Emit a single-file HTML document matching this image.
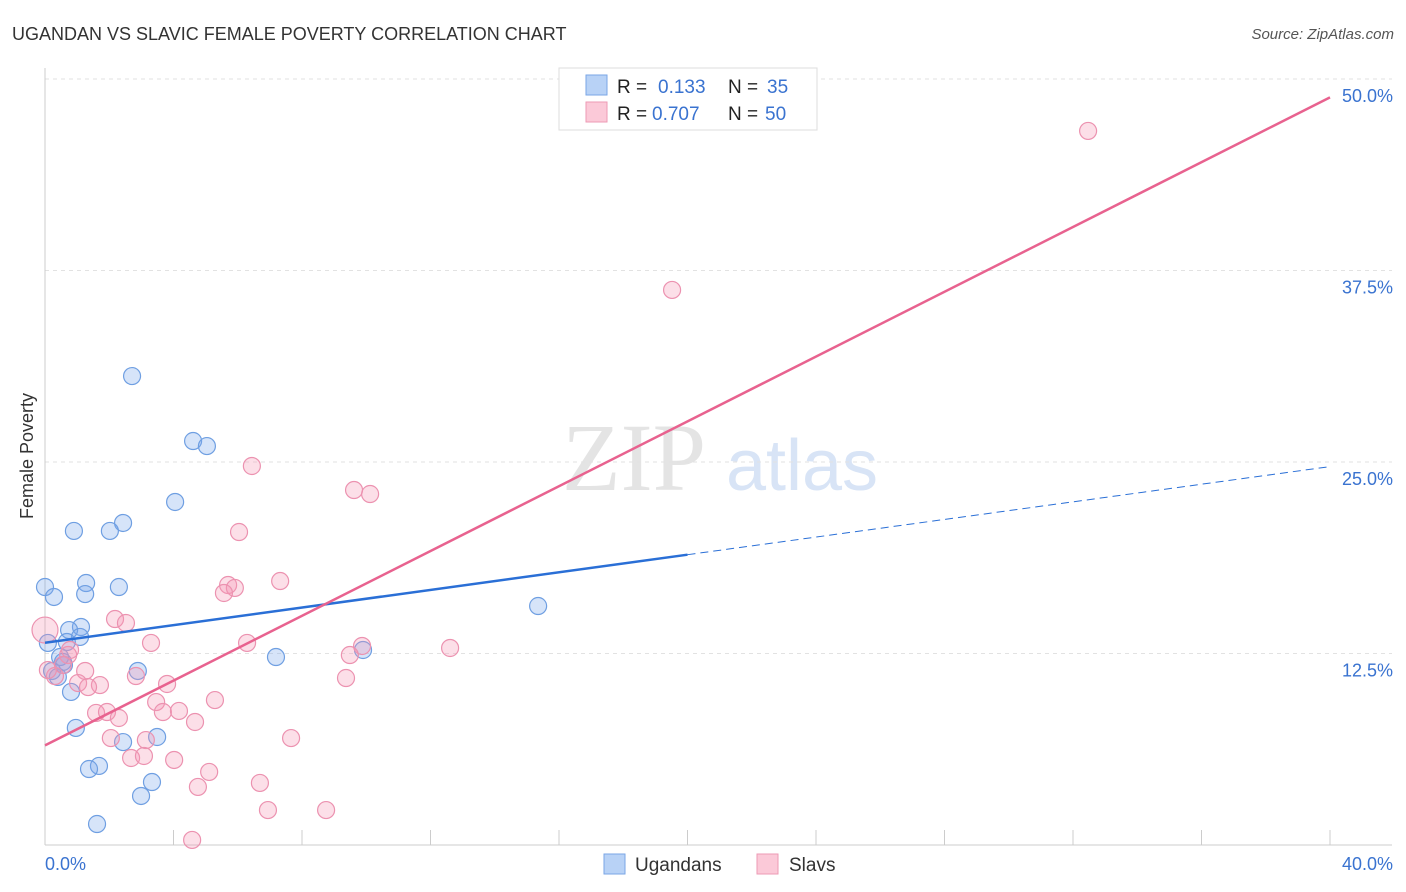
<!DOCTYPE html>
<html><head><meta charset="utf-8"><style>
body{margin:0;background:#fff;font-family:"Liberation Sans",sans-serif;}
svg{display:block}
</style></head><body>
<svg id="c" width="1406" height="892" xmlns="http://www.w3.org/2000/svg">
<text x="12" y="40" font-size="18" fill="#333">UGANDAN VS SLAVIC FEMALE POVERTY CORRELATION CHART</text>
<text x="1394" y="39" font-size="15" fill="#555" font-style="italic" text-anchor="end">Source: ZipAtlas.com</text>
<text x="634" y="490" font-size="96" fill="#e4e4e4" font-family="Liberation Serif,serif" text-anchor="middle">ZIP</text>
<text x="802" y="490" font-size="72" fill="#d8e4f6" text-anchor="middle">atlas</text>
<g id="grid"></g><g id="axes"></g><g id="pts"></g><g id="lines"></g>
<text x="33" y="456" font-size="18" fill="#333" text-anchor="middle" transform="rotate(-90 33 456)">Female Poverty</text>
<text x="45" y="870" font-size="18" fill="#3a73d0">0.0%</text>
<text x="1393" y="870" font-size="18" fill="#3a73d0" text-anchor="end">40.0%</text>
<g>
<rect x="559" y="68" width="258" height="62" fill="#fff" stroke="#ddd"/>
<rect x="586" y="75" width="21" height="20" fill="#b8d2f6" stroke="#7aa6e6"/>
<rect x="586" y="102" width="21" height="20" fill="#fbc9d8" stroke="#ee9ab4"/>
<text x="617" y="93" font-size="19" fill="#222">R =</text><text x="658" y="93" font-size="19" fill="#3a73d0">0.133</text>
<text x="728" y="93" font-size="19" fill="#222">N =</text><text x="767" y="93" font-size="19" fill="#3a73d0">35</text>
<text x="617" y="120" font-size="19" fill="#222">R =</text><text x="652" y="120" font-size="19" fill="#3a73d0">0.707</text>
<text x="728" y="120" font-size="19" fill="#222">N =</text><text x="765" y="120" font-size="19" fill="#3a73d0">50</text>
</g>
<g>
<rect x="604" y="854" width="21" height="20" fill="#b8d2f6" stroke="#7aa6e6"/>
<text x="635" y="871" font-size="19" fill="#333">Ugandans</text>
<rect x="757" y="854" width="21" height="20" fill="#fbc9d8" stroke="#ee9ab4"/>
<text x="789" y="871" font-size="19" fill="#333">Slavs</text>
</g>
</svg>
<script>
const yTicks=[12.5,25,37.5,50];
const yTickLabels=["12.5%","25.0%","37.5%","50.0%"];
const blueX=[2.71,4.61,5.04,4.05,2.43,0.90,2.02,0.0,1.28,2.30,0.28,1.25,15.35,1.12,0.75,1.09,0.68,0.09,0.47,0.56,7.19,9.90,2.89,0.22,0.40,0.81,0.96,2.43,3.49,1.68,1.37,3.33,2.99,1.62,0.59];
const blueY=[30.61,26.37,26.04,22.39,21.02,20.50,20.50,16.84,17.10,16.84,16.19,16.38,15.60,14.23,14.03,13.58,13.25,13.19,12.27,11.95,12.27,12.73,11.36,11.36,10.97,9.99,7.64,6.72,7.05,5.16,4.96,4.11,3.20,1.37,11.75];
const pinkX=[32.47,19.52,6.44,9.62,10.12,6.04,7.32,5.70,5.91,5.57,2.18,2.52,3.30,6.29,9.87,9.49,12.61,0.72,1.25,0,2.83,0.31,1.03,1.71,1.34,3.80,9.37,5.29,3.46,1.59,1.93,3.67,4.17,2.30,4.67,7.66,2.05,3.14,2.68,3.08,4.02,5.11,6.69,4.76,6.94,8.75,4.58,0.56,0.09,0.78];
const pinkY=[46.61,36.23,24.74,23.17,22.91,20.43,17.23,16.97,16.78,16.45,14.75,14.49,13.19,13.19,12.99,12.40,12.86,12.40,11.36,14.03,11.03,11.03,10.57,10.44,10.31,10.51,10.90,9.46,9.33,8.62,8.68,8.68,8.75,8.29,8.03,6.98,6.98,6.85,5.68,5.81,5.55,4.77,4.05,3.79,2.28,2.28,0.33,11.75,11.42,12.73];
const blueLine=[13.2,24.7];   // value at x=0 and x=40
const blueSolidEnd=[20];
const pinkLine=[6.5,48.8];
const NS="http://www.w3.org/2000/svg";
const sx=v=>45+v*32.125, sy=v=>845-v*15.32;
function mk(p,t,a){const e=document.createElementNS(NS,t);for(const k in a)e.setAttribute(k,a[k]);document.getElementById(p).appendChild(e);return e;}
yTicks.forEach((t,i)=>{
 const g=mk('grid','line',{x1:45,x2:1392,y1:sy(t),y2:sy(t),stroke:'#e2e2e2','stroke-dasharray':'4,4'});
 
 
 const l=mk('grid','text',{x:1393,y:sy(t)+23,'font-size':18,fill:'#3a73d0','text-anchor':'end'});
 l.textContent=yTickLabels[i];
 
 
});
const ax=mk('axes','line',{x1:45,x2:45,y1:68,y2:845,stroke:'#ccc'});


const xx=mk('axes','line',{x1:45,x2:1392,y1:845,y2:845,stroke:'#ccc'});


for(let i=0;i<=10;i++){const t=mk('axes','line',{x1:sx(i*4),x2:sx(i*4),y1:830,y2:845,stroke:'#ccc'});
 
 }
blueX.forEach((x,i)=>{const c=mk('pts','circle',{cx:sx(x),cy:sy(blueY[i]),r:8.5,fill:'rgba(120,165,235,0.3)',stroke:'#6f9fe2','stroke-width':1.2});
 
 });
pinkX.forEach((x,i)=>{const c=mk('pts','circle',{cx:sx(x),cy:sy(pinkY[i]),r:i==19?13:8.5,fill:'rgba(245,150,180,0.3)',stroke:'#ec92b0','stroke-width':1.2});
 
 });
const by=x=>blueLine[0]+(blueLine[1]-blueLine[0])*x/40;
const b1=mk('lines','line',{x1:sx(0),y1:sy(by(0)),x2:sx(blueSolidEnd[0]),y2:sy(by(blueSolidEnd[0])),stroke:'#2a6fd6','stroke-width':2.5});


const b2=mk('lines','line',{x1:sx(blueSolidEnd[0]),y1:sy(by(blueSolidEnd[0])),x2:sx(40),y2:sy(by(40)),stroke:'#2a6fd6','stroke-width':1,'stroke-dasharray':'8,5'});


const p1=mk('lines','line',{x1:sx(0),y1:sy(pinkLine[0]),x2:sx(40),y2:sy(pinkLine[1]),stroke:'#e8628f','stroke-width':2.5});


</script>
</body></html>
